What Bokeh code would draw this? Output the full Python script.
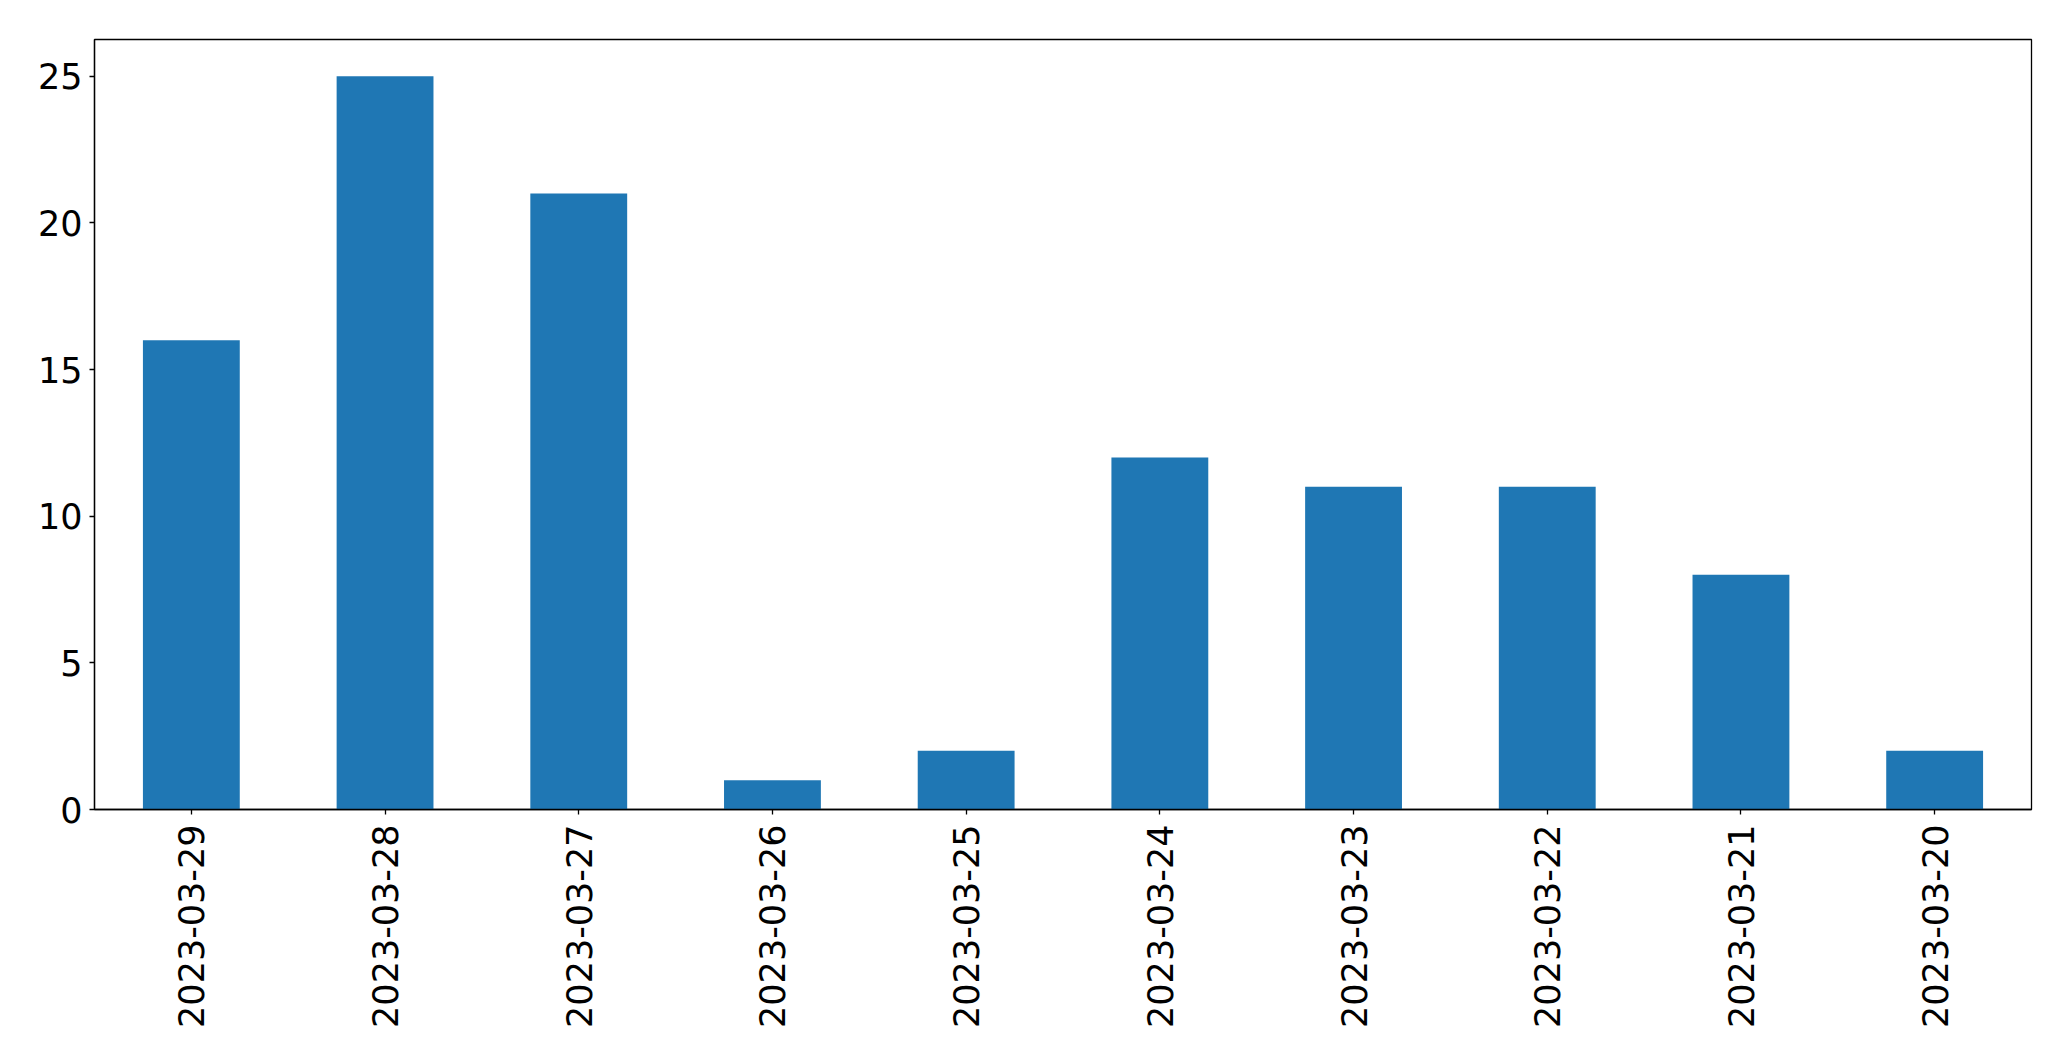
import math
from bokeh.plotting import figure
from bokeh.models import FactorRange, Range1d, FixedTicker
from bokeh.embed import file_html
from bokeh.resources import INLINE

dates = ["2023-03-29", "2023-03-28", "2023-03-27", "2023-03-26", "2023-03-25",
         "2023-03-24", "2023-03-23", "2023-03-22", "2023-03-21", "2023-03-20"]
counts = [16, 25, 21, 1, 2, 12, 11, 11, 8, 2]
y_ticks = [0, 5, 10, 15, 20, 25]

p = figure(x_range=FactorRange(factors=dates), y_range=Range1d(0, 26.25),
           width=2055, height=1045, output_backend="svg", toolbar_location=None,
           min_border_left=94, min_border_top=39, min_border_right=24, min_border_bottom=236)

p.vbar(x=dates, top=counts, width=0.5, color="#1f77b4", line_color=None)

p.xgrid.visible = False
p.ygrid.visible = False
p.outline_line_color = "black"
p.outline_line_width = 1.3
p.background_fill_color = "white"
p.border_fill_color = "white"

p.yaxis.ticker = FixedTicker(ticks=y_ticks)
for ax in (p.xaxis, p.yaxis):
    ax.axis_line_color = "black"
    ax.axis_line_width = 1.3
    ax.major_tick_line_color = "black"
    ax.major_tick_line_width = 1.3
    ax.major_tick_out = 5
    ax.major_tick_in = 0
    ax.minor_tick_line_color = None
    ax.major_label_text_font = "DejaVu Sans"
    ax.major_label_text_font_size = "35px"
    ax.major_label_text_color = "black"

p.yaxis.major_label_standoff = 7
p.xaxis.major_label_standoff = 10
p.xaxis.major_label_orientation = math.pi / 2

open("out.html", "w").write(file_html(p, INLINE))
